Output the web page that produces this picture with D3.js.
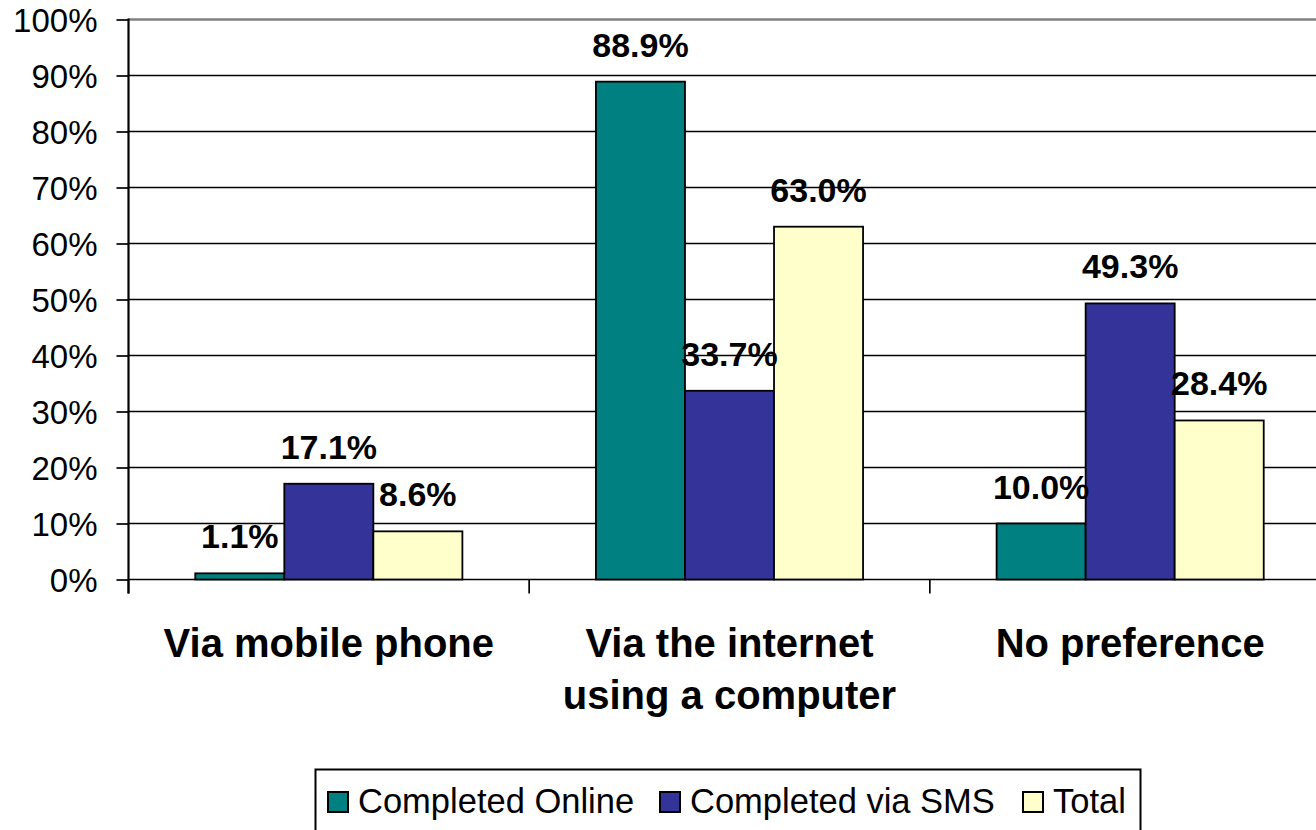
<!DOCTYPE html>
<html>
<head>
<meta charset="utf-8">
<script src="https://cdn.jsdelivr.net/npm/d3@7"></script>
<style>
  html, body { margin: 0; padding: 0; background: #fff; overflow: hidden; }
  svg { display: block; font-family: "Liberation Sans", Arial, sans-serif; }
</style>
</head>
<body>
<svg id="chart" width="1316" height="830"></svg>
<script>
// Survey answers: preferred way of completing the survey
const categories = [["Via mobile phone"], ["Via the internet", "using a computer"], ["No preference"]];
const seriesNames = ["Completed Online", "Completed via SMS", "Total"];
const seriesColors = ["#008080", "#333399", "#FFFFCC"];
const completedOnline = [1.1, 88.9, 10.0];
const completedSms = [17.1, 33.7, 49.3];
const total = [8.6, 63.0, 28.4];
const yTicks = [0, 10, 20, 30, 40, 50, 60, 70, 80, 90, 100];

const seriesValues = [completedOnline, completedSms, total];
const catKeys = categories.map(c => c.join(" "));

const svg = d3.select("#chart");
const plot = { left: 128.5, right: 1330.5, top: 19.5, bottom: 579.5 };

const y = d3.scaleLinear().domain([0, 100]).range([plot.bottom, plot.top]);
const x0 = d3.scaleBand().domain(catKeys).range([plot.left, plot.right]).padding(0);
const x1 = d3.scaleBand().domain(seriesNames).range([0, x0.bandwidth()])
  .paddingInner(0).paddingOuter(0.75);

// Horizontal gridlines (top one is the lighter plot border)
svg.append("g").selectAll("line").data(yTicks).join("line")
  .attr("x1", plot.left).attr("x2", plot.right)
  .attr("y1", d => y(d)).attr("y2", d => y(d))
  .attr("stroke", d => d === 100 ? "#808080" : "#000")
  .attr("stroke-width", d => d === 100 ? 2.5 : 1.7);

// Y axis
const yAxis = svg.append("g").attr("transform", `translate(${plot.left},0)`)
  .call(d3.axisLeft(y).tickValues(yTicks).tickFormat(d => d + "%").tickSize(12).tickPadding(19));
yAxis.select(".domain").remove();
yAxis.selectAll(".tick line").attr("stroke", "#000").attr("stroke-width", 1.7);
yAxis.selectAll(".tick text").attr("font-size", 33).attr("fill", "#000")
  .attr("font-family", "'Liberation Sans', Arial, sans-serif").attr("dy", "0.36em");
svg.append("line").attr("x1", plot.left).attr("x2", plot.left)
  .attr("y1", plot.top - 1).attr("y2", plot.bottom + 14)
  .attr("stroke", "#000").attr("stroke-width", 2.2);

// Category boundary ticks under the baseline
const boundaries = catKeys.map(k => x0(k)).concat([plot.right]);
svg.append("g").selectAll("line").data(boundaries).join("line")
  .attr("x1", d => d).attr("x2", d => d)
  .attr("y1", plot.bottom).attr("y2", plot.bottom + 14)
  .attr("stroke", "#000").attr("stroke-width", 1.7);

// Bars
const flat = [];
catKeys.forEach((k, ci) => seriesNames.forEach((s, si) => {
  flat.push({ cat: k, series: s, si, value: seriesValues[si][ci] });
}));

svg.append("g").selectAll("rect").data(flat).join("rect")
  .attr("x", d => x0(d.cat) + x1(d.series))
  .attr("y", d => y(d.value))
  .attr("width", x1.bandwidth())
  .attr("height", d => y(0) - y(d.value))
  .attr("fill", d => seriesColors[d.si])
  .attr("stroke", "#000").attr("stroke-width", 1.8);

// Value labels
svg.append("g").selectAll("text").data(flat).join("text")
  .attr("x", d => x0(d.cat) + x1(d.series) + x1.bandwidth() / 2)
  .attr("y", d => y(d.value) - 25)
  .attr("text-anchor", "middle")
  .attr("font-size", 34).attr("font-weight", "bold").attr("fill", "#000")
  .text(d => d.value.toFixed(1) + "%");

// Category labels
const catG = svg.append("g");
categories.forEach((lines, ci) => {
  const cx = x0(catKeys[ci]) + x0.bandwidth() / 2;
  lines.forEach((line, li) => {
    catG.append("text")
      .attr("x", cx).attr("y", 657 + li * 52)
      .attr("text-anchor", "middle")
      .attr("font-size", 40).attr("font-weight", "bold").attr("fill", "#000")
      .text(line);
  });
});

// Legend
const legend = svg.append("g");
legend.append("rect").attr("x", 315.5).attr("y", 769.5).attr("width", 825).attr("height", 100)
  .attr("fill", "#fff").attr("stroke", "#000").attr("stroke-width", 2);
const legendX = [328, 660, 1023];
seriesNames.forEach((s, i) => {
  legend.append("rect").attr("x", legendX[i]).attr("y", 792).attr("width", 20).attr("height", 20)
    .attr("fill", seriesColors[i]).attr("stroke", "#000").attr("stroke-width", 2);
  legend.append("text").attr("x", legendX[i] + 30).attr("y", 813)
    .attr("font-size", 34.5).attr("fill", "#000").text(s);
});
</script>
</body>
</html>
